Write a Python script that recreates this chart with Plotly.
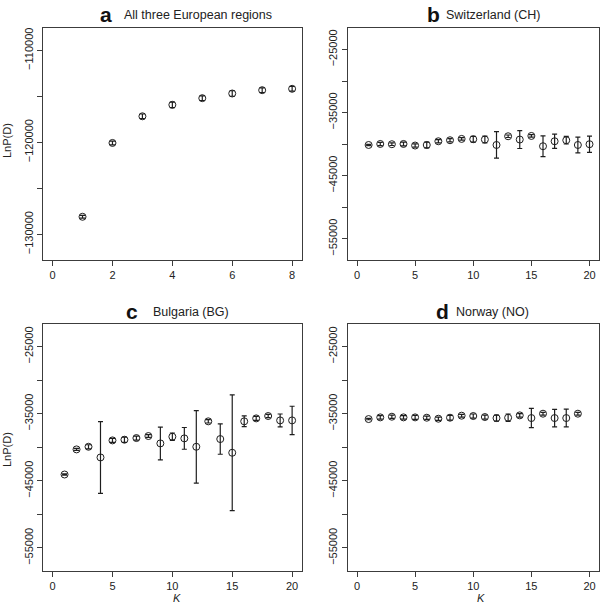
import plotly.graph_objects as go

# ---------------- data ----------------
k_a = [1, 2, 3, 4, 5, 6, 7, 8]
mean_a = [-128100, -120070, -117170, -115920, -115200, -114690, -114330, -114180]
sd_a = [150, 200, 250, 300, 250, 300, 250, 250]

k_b = list(range(1, 21))
mean_b = [-40130, -39970, -40010, -39970, -40220, -40130, -39540, -39380, -39170, -39220,
          -39270, -40130, -38750, -39270, -38700, -40330, -39540, -39380, -40130, -40010]
sd_b = [100, 250, 200, 300, 250, 450, 250, 250, 200, 450,
        550, 2100, 200, 1420, 200, 1640, 1130, 600, 1240, 1290]

k_c = list(range(1, 21))
mean_c = [-44060, -40320, -39930, -41520, -38980, -38880, -38630, -38330, -39430, -38430,
          -38680, -39930, -36140, -38780, -40820, -36140, -35700, -35350, -36000, -36000]
sd_c = [100, 150, 300, 5350, 300, 400, 300, 200, 2440, 550,
        1620, 5400, 250, 2260, 8630, 800, 300, 250, 950, 2110]

k_d = list(range(1, 20))
mean_d = [-35800, -35550, -35450, -35550, -35550, -35600, -35750, -35600, -35300, -35350,
          -35500, -35650, -35600, -35250, -35650, -35000, -35650, -35650, -35000]
sd_d = [100, 250, 250, 250, 300, 250, 250, 350, 200, 300,
        300, 450, 550, 250, 1440, 200, 1300, 1320, 200]

titles_letter = ["a", "b", "c", "d"]
titles_text = ["All three European regions", "Switzerland (CH)", "Bulgaria (BG)", "Norway (NO)"]

# ---------------- layout helpers ----------------
W, H = 600, 612
def px_x(p):
    return p / W
def px_y(p):
    return 1 - p / H

INK = "#1e1e1e"
AX = "#3c3c3c"
FONT = "Liberation Sans, Arial, sans-serif"

fig = go.Figure()

panels = [
    dict(k=k_a, m=mean_a, s=sd_a, xd=[43, 301.7], yd=[28.3, 260],
         xr=[-0.32, 8.32], xt=[0, 2, 4, 6, 8], yr=[-132800, -107600],
         yt=[-130000, -125000, -120000, -115000, -110000],
         ytl=["\u2212130000", "", "\u2212120000", "", "\u2212110000"]),
    dict(k=k_b, m=mean_b, s=sd_b, xd=[347.7, 598.8], yd=[28.3, 260],
         xr=[-0.8, 20.8], xt=[0, 5, 10, 15, 20], yr=[-58360, -21640],
         yt=[-55000, -50000, -45000, -40000, -35000, -30000, -25000],
         ytl=["\u221255000", "", "\u221245000", "", "\u221235000", "", "\u221225000"]),
    dict(k=k_c, m=mean_c, s=sd_c, xd=[43, 301.7], yd=[324, 570.5],
         xr=[-0.8, 20.8], xt=[0, 5, 10, 15, 20], yr=[-58360, -21640],
         yt=[-55000, -50000, -45000, -40000, -35000, -30000, -25000],
         ytl=["\u221255000", "", "\u221245000", "", "\u221235000", "", "\u221225000"]),
    dict(k=k_d, m=mean_d, s=sd_d, xd=[347.7, 598.8], yd=[324, 570.5],
         xr=[-0.8, 20.8], xt=[0, 5, 10, 15, 20], yr=[-58360, -21640],
         yt=[-55000, -50000, -45000, -40000, -35000, -30000, -25000],
         ytl=["\u221255000", "", "\u221245000", "", "\u221235000", "", "\u221225000"]),
]

layout_axes = {}
for i, p in enumerate(panels):
    n = "" if i == 0 else str(i + 1)
    fig.add_trace(go.Scatter(
        x=p["k"], y=p["m"], mode="markers",
        xaxis="x" + n, yaxis="y" + n,
        marker=dict(symbol="circle-open", size=7, color=INK, line=dict(width=1, color=INK)),
        error_y=dict(type="data", array=p["s"], symmetric=True, color=INK, thickness=1.2, width=2.5),
        showlegend=False, hoverinfo="skip", cliponaxis=False,
    ))
    common = dict(showline=True, linecolor=AX, linewidth=1, mirror=True, ticks="outside",
                  ticklen=5, tickcolor=AX, tickwidth=1, showgrid=False, zeroline=False,
                  ticklabeloverflow="allow",
                  tickfont=dict(family=FONT, size=11, color="#222"))
    layout_axes["xaxis" + n] = dict(domain=[px_x(p["xd"][0]), px_x(p["xd"][1])],
                                    range=p["xr"], tickvals=p["xt"], anchor="y" + n, **common)
    layout_axes["yaxis" + n] = dict(domain=[px_y(p["yd"][1]), px_y(p["yd"][0])],
                                    range=p["yr"], tickvals=p["yt"], ticktext=p["ytl"],
                                    tickangle=-90, anchor="x" + n, **common)

fig.update_layout(**layout_axes)

ann = []
# panel titles
title_pos = [(98, 14.5), (425, 14.5), (124, 311.5), (434, 311.5)]
for (lx, ly), let, txt in zip(title_pos, titles_letter, titles_text):
    ann.append(dict(x=px_x(lx), y=px_y(ly), xref="paper", yref="paper", xanchor="left",
                    yanchor="middle", showarrow=False, text="<b>" + let + "</b>",
                    font=dict(family=FONT, size=21, color="#111")))
letter_w = {"a": 24, "b": 19, "c": 27, "d": 20}
for (lx, ly), let, txt in zip(title_pos, titles_letter, titles_text):
    ann.append(dict(x=px_x(lx + letter_w[let]), y=px_y(ly + 0.5), xref="paper", yref="paper",
                    xanchor="left", yanchor="middle", showarrow=False, text=txt,
                    font=dict(family=FONT, size=12.5, color="#222")))
# y labels
for cy in [141, 450]:
    ann.append(dict(x=px_x(7), y=px_y(cy), xref="paper", yref="paper", xanchor="center",
                    yanchor="middle", showarrow=False, text="LnP(D)", textangle=-90,
                    font=dict(family=FONT, size=11, color="#222")))
# x labels
for cx in [177, 481]:
    ann.append(dict(x=px_x(cx), y=px_y(598), xref="paper", yref="paper", xanchor="center",
                    yanchor="middle", showarrow=False, text="<i>K</i>",
                    font=dict(family=FONT, size=11, color="#222")))

fig.update_layout(width=W, height=H, margin=dict(l=0, r=0, t=0, b=0),
                  paper_bgcolor="white", plot_bgcolor="white", annotations=ann)

fig.write_html("out.html", config={"displayModeBar": False},
               post_script="document.body.style.margin='0';document.body.style.overflow='hidden';")
